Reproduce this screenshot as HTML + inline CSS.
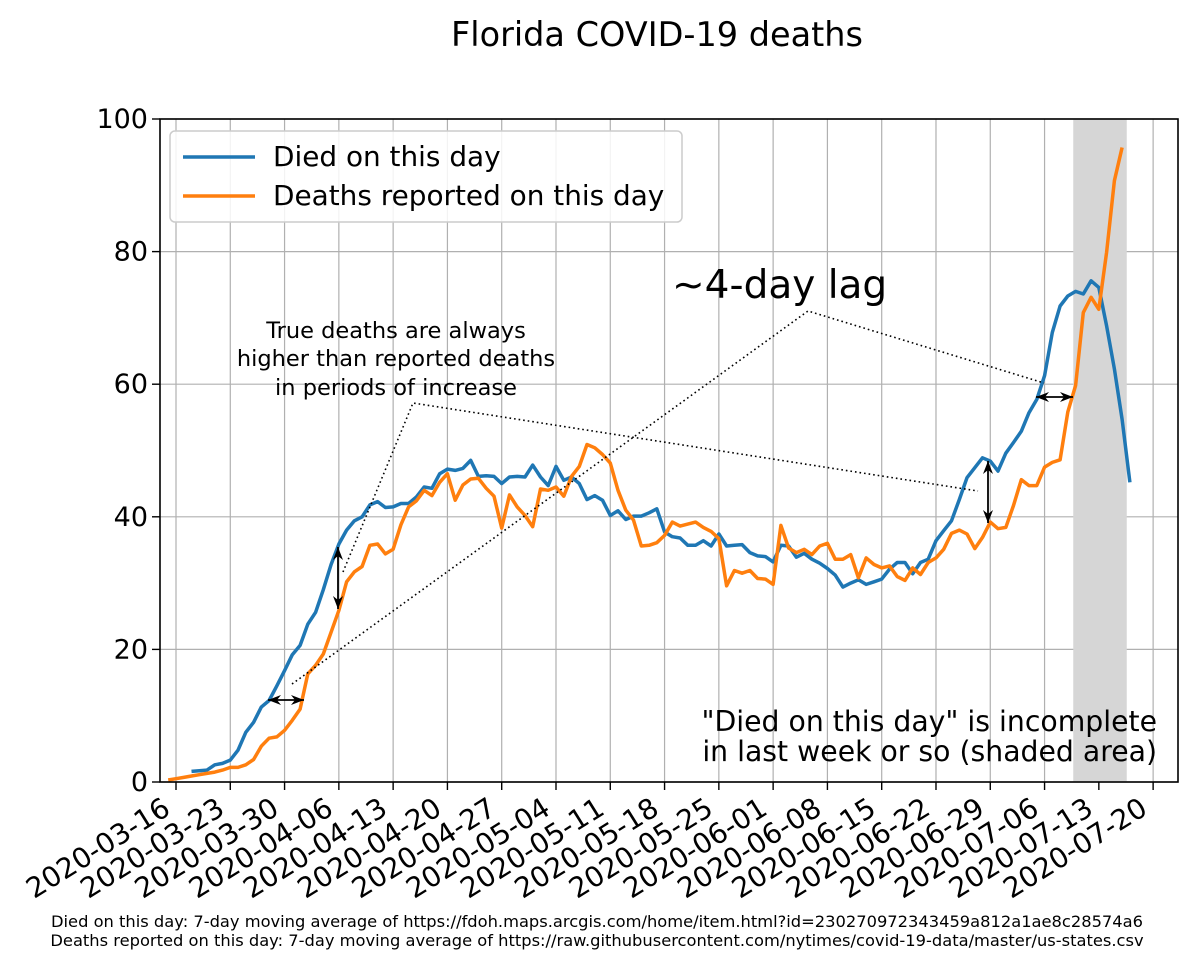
<!DOCTYPE html>
<html><head><meta charset="utf-8"><style>
body{margin:0;background:#fff;}
svg{display:block;font-family:"DejaVu Sans","Liberation Sans",sans-serif;}
</style></head><body>
<svg id="chart" width="1200" height="970" viewBox="0 0 1200 970">
<text x="657" y="46" font-size="33.5" text-anchor="middle">Florida COVID-19 deaths</text>
<g id="grid"></g>
<rect id="shade" y="119" height="663" fill="#d6d6d6"></rect>
<g id="series"></g>
<g id="annot" fill="none" stroke="#000" stroke-width="1.6" stroke-dasharray="1.6,3">
<polyline points="292,684 808,311 1044,383"></polyline>
<polyline points="343,572 413,403 978,491"></polyline>
</g>
<g id="arrows" stroke="#000" stroke-width="1.8" fill="#000"></g>
<text x="672" y="298" font-size="39">~4-day lag</text>
<g font-size="22.5" text-anchor="middle">
<text x="396" y="338">True deaths are always</text>
<text x="396" y="366">higher than reported deaths</text>
<text x="396" y="395">in periods of increase</text>
</g>
<g font-size="28.3" text-anchor="end">
<text x="1157" y="731">"Died on this day" is incomplete</text>
<text x="1157" y="761">in last week or so (shaded area)</text>
</g>
<rect x="160" y="119" width="1018" height="663" fill="none" stroke="#000" stroke-width="1.6"></rect>
<g id="ticks"></g>
<g>
<rect x="170" y="131" width="512" height="91" rx="5" fill="#fff" fill-opacity="0.85" stroke="#ccc" stroke-width="1.5"></rect>
<line x1="183" y1="157" x2="255" y2="157" stroke="#1f77b4" stroke-width="3.5"></line>
<text x="273" y="166" font-size="27.9">Died on this day</text>
<line x1="183" y1="196" x2="255" y2="196" stroke="#ff7f0e" stroke-width="3.5"></line>
<text x="273" y="205" font-size="27.9">Deaths reported on this day</text>
</g>
<g font-size="16.3" text-anchor="middle">
<text x="597" y="927">Died on this day: 7-day moving average of https://fdoh.maps.arcgis.com/home/item.html?id=230270972343459a812a1ae8c28574a6</text>
<text x="597" y="946">Deaths reported on this day: 7-day moving average of https://raw.githubusercontent.com/nytimes/covid-19-data/master/us-states.csv</text>
</g>
</svg>
<script>
const blueStartDay = 2;
const blueValues = [1.6,1.7,1.8,2.6,2.8,3.3,4.8,7.5,9,11.3,12.3,14.5,16.8,19.2,20.6,23.8,25.6,29,32.8,35.9,38,39.4,40,41.8,42.3,41.4,41.5,42,42,43,44.5,44.3,46.5,47.2,47,47.3,48.5,46.1,46.2,46.1,45,46,46.1,46,47.8,46,44.7,47.6,45.5,46,45,42.6,43.2,42.5,40.2,40.9,39.6,40.1,40.1,40.6,41.2,37.7,37,36.8,35.7,35.7,36.4,35.6,37.4,35.6,35.7,35.8,34.6,34.1,34,33.2,35.7,35.6,33.9,34.5,33.6,33,32.2,31.2,29.4,30,30.5,29.8,30.2,30.6,32.1,33.1,33.1,31.4,33.1,33.6,36.4,37.9,39.4,42.6,45.9,47.4,48.9,48.4,46.9,49.6,51.2,52.9,55.7,57.7,61.3,67.8,71.8,73.3,74,73.6,75.6,74.6,68.8,62.3,54.7,45.2];
const orangeStartDay = -1;
const orangeValues = [0.3,0.5,0.7,0.9,1.1,1.3,1.5,1.8,2.2,2.2,2.6,3.4,5.4,6.6,6.8,7.8,9.3,11,16.3,17.6,19.3,22.6,25.9,30.2,31.7,32.5,35.7,35.9,34.4,35.1,38.8,41.5,42.4,44,43.2,45.2,46.5,42.5,44.8,45.7,45.8,44.3,43.1,38.3,43.3,41.5,40.2,38.5,44.2,44,44.5,43.1,46.1,47.6,50.9,50.4,49.4,48.1,44,41,39.5,35.6,35.7,36.1,37.2,39.2,38.6,38.9,39.2,38.4,37.8,36.7,29.6,31.9,31.5,31.9,30.7,30.6,29.8,38.7,35.3,34.6,35.1,34.3,35.6,36,33.6,33.6,34.3,30.8,33.8,32.8,32.3,32.6,31,30.4,32.3,31.3,33.1,33.8,35.1,37.5,38,37.4,35.2,36.9,39.2,38.2,38.4,41.7,45.6,44.7,44.7,47.5,48.2,48.6,55.8,59.8,70.8,73.1,71.3,79.9,90.7,95.7];
const xTickLabels = ["2020-03-16","2020-03-23","2020-03-30","2020-04-06","2020-04-13","2020-04-20","2020-04-27","2020-05-04","2020-05-11","2020-05-18","2020-05-25","2020-06-01","2020-06-08","2020-06-15","2020-06-22","2020-06-29","2020-07-06","2020-07-13","2020-07-20"];
const yTickValues = [0,20,40,60,80,100];
const shadeDays = [115.7, 122.6];

const NS = "http://www.w3.org/2000/svg";
const X0 = 176, DX = 7.755, YB = 782, YT = 119;
const xs = d => X0 + d * DX;
const ys = v => YB - (v / 100) * (YB - YT);
function mk(tag, attrs, parent) {
  const e = document.createElementNS(NS, tag);
  for (const k in attrs) e.setAttribute(k, attrs[k]);
  parent.appendChild(e);
  return e;
}
const grid = document.getElementById('grid');
const ticks = document.getElementById('ticks');
xTickLabels.forEach((lab, i) => {
  const x = xs(i * 7);
  const g = mk('line', {x1: x, x2: x, y1: YT, y2: YB, stroke: '#b0b0b0', 'stroke-width': 1.2}, grid);
  
  
  const t = mk('line', {x1: x, x2: x, y1: YB, y2: YB + 8, stroke: '#000', 'stroke-width': 1.4}, ticks);
  
  
  const tx = mk('text', {'font-size': 28, 'text-anchor': 'end', transform: `translate(${x - 4},${YB + 31}) rotate(-32)`}, ticks);
  tx.textContent = lab;
  
  
});
yTickValues.forEach(v => {
  const y = ys(v);
  const g = mk('line', {x1: 160, x2: 1178, y1: y, y2: y, stroke: '#b0b0b0', 'stroke-width': 1.2}, grid);
  
  
  const t = mk('line', {x1: 152, x2: 160, y1: y, y2: y, stroke: '#000', 'stroke-width': 1.4}, ticks);
  
  
  const tx = mk('text', {x: 148, y: y + 9, 'font-size': 27, 'text-anchor': 'end'}, ticks);
  tx.textContent = v;
  
  
});
const shade = document.getElementById('shade');
shade.setAttribute('x', xs(shadeDays[0]));
shade.setAttribute('width', xs(shadeDays[1]) - xs(shadeDays[0]));
const series = document.getElementById('series');
function line(start, vals, color, name) {
  const pts = vals.map((v, i) => xs(start + i).toFixed(1) + ',' + ys(v).toFixed(1)).join(' ');
  const p = mk('polyline', {points: pts, fill: 'none', stroke: color, 'stroke-width': 3.5, 'stroke-linejoin': 'round'}, series);
  
  
}
line(blueStartDay, blueValues, '#1f77b4', 'died-on-this-day-line');
line(orangeStartDay, orangeValues, '#ff7f0e', 'deaths-reported-line');

const arrows = document.getElementById('arrows');
function dbl(x1, y1, x2, y2, name) {
  const g = mk('g', {}, arrows);
  
  
  mk('line', {x1, y1, x2, y2}, g);
  const ang = Math.atan2(y2 - y1, x2 - x1), L = 13, W = 5;
  [[x1, y1, ang + Math.PI], [x2, y2, ang]].forEach(([x, y, a]) => {
    const bx = x - L * Math.cos(a), by = y - L * Math.sin(a);
    const px = -Math.sin(a) * W, py = Math.cos(a) * W;
    mk('polygon', {points: `${x},${y} ${bx + px},${by + py} ${bx + 4 * Math.cos(a)},${by + 4 * Math.sin(a)} ${bx - px},${by - py}`, stroke: 'none'}, g);
  });
}
dbl(268, 700, 304, 700, 'lag-arrow-early');
dbl(338, 547, 338, 609, 'gap-arrow-early');
dbl(988, 461, 988, 523, 'gap-arrow-late');
dbl(1036, 397, 1073, 397, 'lag-arrow-late');
</script>
</body></html>
